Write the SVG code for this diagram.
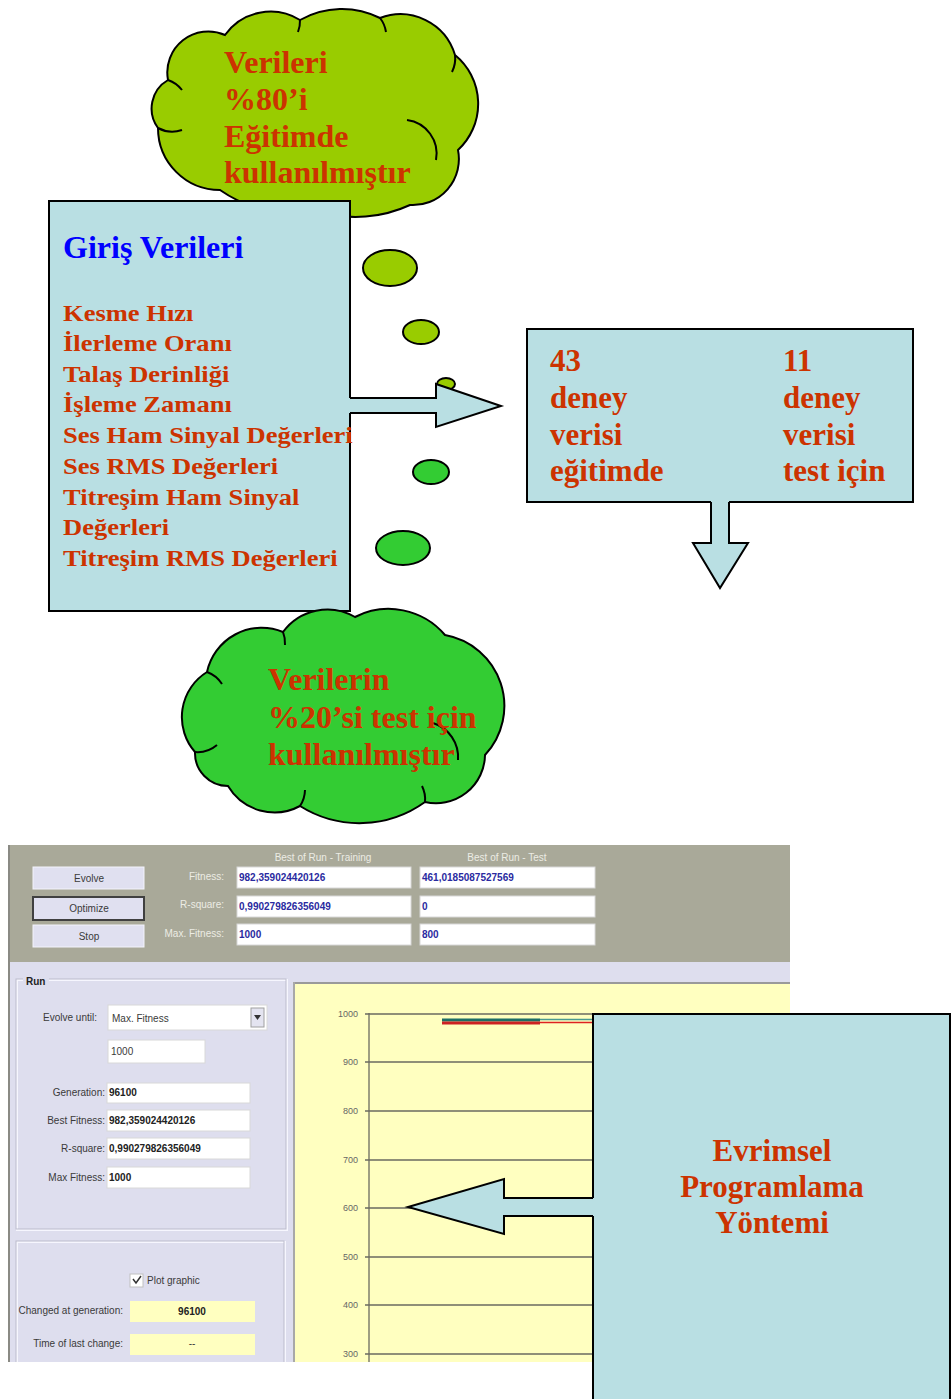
<svg xmlns="http://www.w3.org/2000/svg" width="951" height="1399" viewBox="0 0 951 1399">
<style>
.dt{font-family:"Liberation Serif","Times New Roman",serif;font-weight:bold;fill:#cc3300}
.ttl{font-family:"Liberation Serif","Times New Roman",serif;font-weight:bold;fill:#0000ff}
.box{fill:#b9dfe3;stroke:#000;stroke-width:2}
.cl1{fill:#99cc00;stroke:#000;stroke-width:2}
.cl2{fill:#33cc33;stroke:#000;stroke-width:2}
.fold{fill:none;stroke:#000;stroke-width:2}
.afill{fill:#b9dfe3;stroke:none}
.aline{fill:none;stroke:#000;stroke-width:2;stroke-linejoin:miter}
.ui{font-family:"Liberation Sans",Arial,sans-serif;font-size:10px;fill:#3a3a3a}
.uil{font-family:"Liberation Sans",Arial,sans-serif;font-size:10px;fill:#ececE4}
.val{font-family:"Liberation Sans",Arial,sans-serif;font-size:10px;font-weight:bold;fill:#2a2aa0}
.valk{font-family:"Liberation Sans",Arial,sans-serif;font-size:10px;font-weight:bold;fill:#222}
.fld{fill:#ffffff;stroke:#d8d8d8;stroke-width:1}
.btn{fill:#e0e0f0;stroke:#f4f4fc;stroke-width:1}
.grid{stroke:#6a6a60;stroke-width:1.3}
.tick{font-family:"Liberation Sans",Arial,sans-serif;font-size:9px;fill:#666;text-anchor:end}
</style>
<defs>
<clipPath id="shotclip"><rect x="8" y="845" width="782" height="517"/></clipPath>
</defs>

<g id="cloud-top">
<path class="cl1" d="M158,128 A33,33 0 0 1 168,80 A41,41 0 0 1 225,35 A56,56 0 0 1 300,20 A85,85 0 0 1 380,18 A57,57 0 0 1 455,55 A63,63 0 0 1 458,150 A46,46 0 0 1 410,205 A130,130 0 0 1 320,212 A135,135 0 0 1 220,190 A62,62 0 0 1 158,128 Z"/>
<path class="fold" d="M407,120 A34,34 0 0 1 436,160"/>
<path class="fold" d="M168,80 A30,30 0 0 1 182,90"/>
<path class="fold" d="M455,55 A30,30 0 0 1 452,72"/>
<path class="fold" d="M380,18 A30,30 0 0 1 386,32"/>
<path class="fold" d="M300,20 A30,30 0 0 1 298,32"/>
<path class="fold" d="M158,128 A30,30 0 0 0 182,130"/>
<text class="dt" font-size="32" x="224" y="73">Verileri</text>
<text class="dt" font-size="32" x="224" y="110">%80’i</text>
<text class="dt" font-size="32" x="224" y="147">Eğitimde</text>
<text class="dt" font-size="32" x="224" y="183">kullanılmıştır</text>
</g>

<g id="box-inputs">
<rect class="box" x="49" y="201" width="301" height="410"/>
<text class="ttl" font-size="32" x="63" y="258">Giriş Verileri</text>
<g transform="scale(1.13,1)">
<text class="dt" font-size="23.5" x="55.75" y="321">Kesme Hızı</text>
<text class="dt" font-size="23.5" x="55.75" y="351.5">İlerleme Oranı</text>
<text class="dt" font-size="23.5" x="55.75" y="382">Talaş Derinliği</text>
<text class="dt" font-size="23.5" x="55.75" y="412.5">İşleme Zamanı</text>
<text class="dt" font-size="23.5" x="55.75" y="443">Ses Ham Sinyal Değerleri</text>
<text class="dt" font-size="23.5" x="55.75" y="474">Ses RMS Değerleri</text>
<text class="dt" font-size="23.5" x="55.75" y="505">Titreşim Ham Sinyal</text>
<text class="dt" font-size="23.5" x="55.75" y="535">Değerleri</text>
<text class="dt" font-size="23.5" x="55.75" y="566">Titreşim RMS Değerleri</text>
</g>
</g>

<g id="bubbles">
<ellipse class="cl1" cx="390" cy="268" rx="27" ry="18"/>
<ellipse class="cl1" cx="421" cy="332" rx="18" ry="12"/>
<ellipse class="cl1" cx="446" cy="384" rx="9" ry="6"/>
<ellipse class="cl2" cx="431" cy="472" rx="18" ry="12"/>
<ellipse class="cl2" cx="403" cy="548" rx="27" ry="17"/>
</g>

<g id="box-split">
<rect class="box" x="527" y="329" width="386" height="173"/>
<text class="dt" font-size="31" x="550" y="371">43</text>
<text class="dt" font-size="31" x="550" y="408">deney</text>
<text class="dt" font-size="31" x="550" y="444.5">verisi</text>
<text class="dt" font-size="31" x="550" y="481">eğitimde</text>
<text class="dt" font-size="31" x="783" y="371">11</text>
<text class="dt" font-size="31" x="783" y="408">deney</text>
<text class="dt" font-size="31" x="783" y="444.5">verisi</text>
<text class="dt" font-size="31" x="783" y="481">test için</text>
</g>

<g id="cloud-bottom">
<path class="cl2" d="M195,752 A53,53 0 0 1 207,672 A56,56 0 0 1 283,632 A55,55 0 0 1 355,617 A74,74 0 0 1 445,635 A72,72 0 0 1 485,755 A49,49 0 0 1 425,802 A112,112 0 0 1 300,806 A54,54 0 0 1 228,786 A33,33 0 0 1 195,752 Z"/>
<path class="fold" d="M433,723 A36,36 0 0 1 458,760"/>
<path class="fold" d="M195,752 A30,30 0 0 0 217,745"/>
<path class="fold" d="M207,672 A30,30 0 0 1 222,684"/>
<path class="fold" d="M300,806 A30,30 0 0 0 305,790"/>
<path class="fold" d="M425,802 A30,30 0 0 0 422,786"/>
<path class="fold" d="M283,632 A30,30 0 0 1 285,645"/>
<text class="dt" font-size="32" x="268" y="690">Verilerin</text>
<text class="dt" font-size="32" x="268" y="728">%20’si test için</text>
<text class="dt" font-size="32" x="268" y="765">kullanılmıştır</text>
</g>

<g id="screenshot" clip-path="url(#shotclip)">
<rect x="8" y="845" width="782" height="517" fill="#dedeee"/>
<rect x="8" y="845" width="782" height="117" fill="#a9a999"/>
<line x1="9" y1="845" x2="9" y2="1362" stroke="#8a8a84" stroke-width="2"/>
<text class="uil" x="323" y="861" text-anchor="middle">Best of Run - Training</text>
<text class="uil" x="507" y="861" text-anchor="middle">Best of Run - Test</text>
<rect class="btn" x="33" y="867" width="111" height="22"/>
<text class="ui" x="89" y="882" text-anchor="middle">Evolve</text>
<rect x="33" y="897" width="111" height="23" fill="#e0e0f0" stroke="#404040" stroke-width="2"/>
<text class="ui" x="89" y="912" text-anchor="middle">Optimize</text>
<rect class="btn" x="33" y="925" width="111" height="22"/>
<text class="ui" x="89" y="940" text-anchor="middle" fill="#c4c4cc">Stop</text>
<text class="uil" x="224" y="880" text-anchor="end">Fitness:</text>
<text class="uil" x="224" y="908" text-anchor="end">R-square:</text>
<text class="uil" x="224" y="937" text-anchor="end">Max. Fitness:</text>
<rect class="fld" x="237" y="867" width="174" height="21"/>
<rect class="fld" x="237" y="896" width="174" height="21"/>
<rect class="fld" x="237" y="924" width="174" height="21"/>
<rect class="fld" x="420" y="867" width="175" height="21"/>
<rect class="fld" x="420" y="896" width="175" height="21"/>
<rect class="fld" x="420" y="924" width="175" height="21"/>
<text class="val" x="239" y="881">982,359024420126</text>
<text class="val" x="239" y="910">0,990279826356049</text>
<text class="val" x="239" y="938">1000</text>
<text class="val" x="422" y="881">461,0185087527569</text>
<text class="val" x="422" y="910">0</text>
<text class="val" x="422" y="938">800</text>
<rect x="17" y="980" width="270" height="250" fill="none" stroke="#f6f6fe" stroke-width="2"/>
<rect x="16" y="979" width="270" height="250" fill="none" stroke="#bcbccc" stroke-width="1"/>
<rect x="23" y="974" width="26" height="12" fill="#dedeee"/>
<text class="valk" x="26" y="985">Run</text>
<text class="ui" x="97" y="1021" text-anchor="end">Evolve until:</text>
<rect class="fld" x="108" y="1005" width="159" height="25"/>
<text class="ui" x="112" y="1022">Max. Fitness</text>
<rect x="251" y="1008" width="13" height="19" fill="#e4e4f0" stroke="#a0a0a0"/>
<path d="M254,1015 L261,1015 L257.5,1020 Z" fill="#333"/>
<rect class="fld" x="108" y="1040" width="97" height="23"/>
<text class="ui" x="111" y="1055">1000</text>
<text class="ui" x="105" y="1096" text-anchor="end">Generation:</text>
<rect class="fld" x="107" y="1083" width="143" height="20"/>
<text class="valk" x="109" y="1096">96100</text>
<text class="ui" x="105" y="1124" text-anchor="end">Best Fitness:</text>
<rect class="fld" x="107" y="1110" width="143" height="21"/>
<text class="valk" x="109" y="1124">982,359024420126</text>
<text class="ui" x="105" y="1152" text-anchor="end">R-square:</text>
<rect class="fld" x="107" y="1138" width="143" height="21"/>
<text class="valk" x="109" y="1152">0,990279826356049</text>
<text class="ui" x="105" y="1181" text-anchor="end">Max Fitness:</text>
<rect class="fld" x="107" y="1167" width="143" height="21"/>
<text class="valk" x="109" y="1181">1000</text>
<rect x="17" y="1242" width="268" height="130" fill="none" stroke="#f6f6fe" stroke-width="2"/>
<rect x="16" y="1241" width="268" height="130" fill="none" stroke="#bcbccc" stroke-width="1"/>
<rect x="130" y="1274" width="13" height="13" fill="#fff" stroke="#c0c0c0"/>
<path d="M133,1279 L136,1283 L141,1276" fill="none" stroke="#333" stroke-width="1.5"/>
<text class="ui" x="147" y="1284">Plot graphic</text>
<text class="ui" x="123" y="1314" text-anchor="end">Changed at generation:</text>
<rect x="130" y="1301" width="125" height="21" fill="#ffffc0"/>
<text class="valk" x="192" y="1315" text-anchor="middle">96100</text>
<text class="ui" x="123" y="1347" text-anchor="end">Time of last change:</text>
<rect x="130" y="1334" width="125" height="21" fill="#ffffc0"/>
<text class="ui" x="192" y="1347" text-anchor="middle">--</text>
<rect x="293" y="982" width="497" height="380" fill="#ffffc0"/>
<line x1="293" y1="983" x2="790" y2="983" stroke="#9a9a9a" stroke-width="2"/>
<line x1="294" y1="982" x2="294" y2="1362" stroke="#a8a8a8" stroke-width="2"/>
<line x1="369" y1="1013" x2="369" y2="1362" stroke="#6a6a60" stroke-width="1.3"/>
<line class="grid" x1="365" y1="1014" x2="790" y2="1014"/>
<line class="grid" x1="365" y1="1062" x2="790" y2="1062"/>
<line class="grid" x1="365" y1="1111" x2="790" y2="1111"/>
<line class="grid" x1="365" y1="1160" x2="790" y2="1160"/>
<line class="grid" x1="365" y1="1208" x2="790" y2="1208"/>
<line class="grid" x1="365" y1="1257" x2="790" y2="1257"/>
<line class="grid" x1="365" y1="1305" x2="790" y2="1305"/>
<line class="grid" x1="365" y1="1354" x2="790" y2="1354"/>
<text class="tick" x="358" y="1017">1000</text>
<text class="tick" x="358" y="1065">900</text>
<text class="tick" x="358" y="1114">800</text>
<text class="tick" x="358" y="1163">700</text>
<text class="tick" x="358" y="1211">600</text>
<text class="tick" x="358" y="1260">500</text>
<text class="tick" x="358" y="1308">400</text>
<text class="tick" x="358" y="1357">300</text>
<line x1="442" y1="1020" x2="540" y2="1020" stroke="#1c6e66" stroke-width="3"/>
<line x1="540" y1="1019.5" x2="600" y2="1019.5" stroke="#4a9a90" stroke-width="1.5"/>
<line x1="442" y1="1023" x2="540" y2="1023" stroke="#cc2222" stroke-width="3"/>
<line x1="540" y1="1022.5" x2="600" y2="1022.5" stroke="#dd2222" stroke-width="1.5"/>
</g>

<g id="box-method">
<rect class="box" x="593" y="1014" width="357" height="400"/>
<text class="dt" font-size="31" x="772" y="1161" text-anchor="middle">Evrimsel</text>
<text class="dt" font-size="31" x="772" y="1197" text-anchor="middle">Programlama</text>
<text class="dt" font-size="31" x="772" y="1233" text-anchor="middle">Yöntemi</text>
</g>

<g id="connectors">
<polygon class="afill" points="349,398 436,398 436,384 501,406 436,427 436,413 349,413"/>
<path class="aline" d="M350,398 L436,398 L436,384 L501,406 L436,427 L436,413 L350,413"/>
<polygon class="afill" points="711,501 711,543 693,543 720,588 748,543 729,543 729,501"/>
<path class="aline" d="M711,502 L711,543 L693,543 L720,588 L748,543 L729,543 L729,502"/>
<polygon class="afill" points="595,1198 504,1198 504,1179 408,1207 504,1234 504,1216 595,1216"/>
<path class="aline" d="M593,1198 L504,1198 L504,1179 L408,1207 L504,1234 L504,1216 L593,1216"/>
</g>
</svg>
